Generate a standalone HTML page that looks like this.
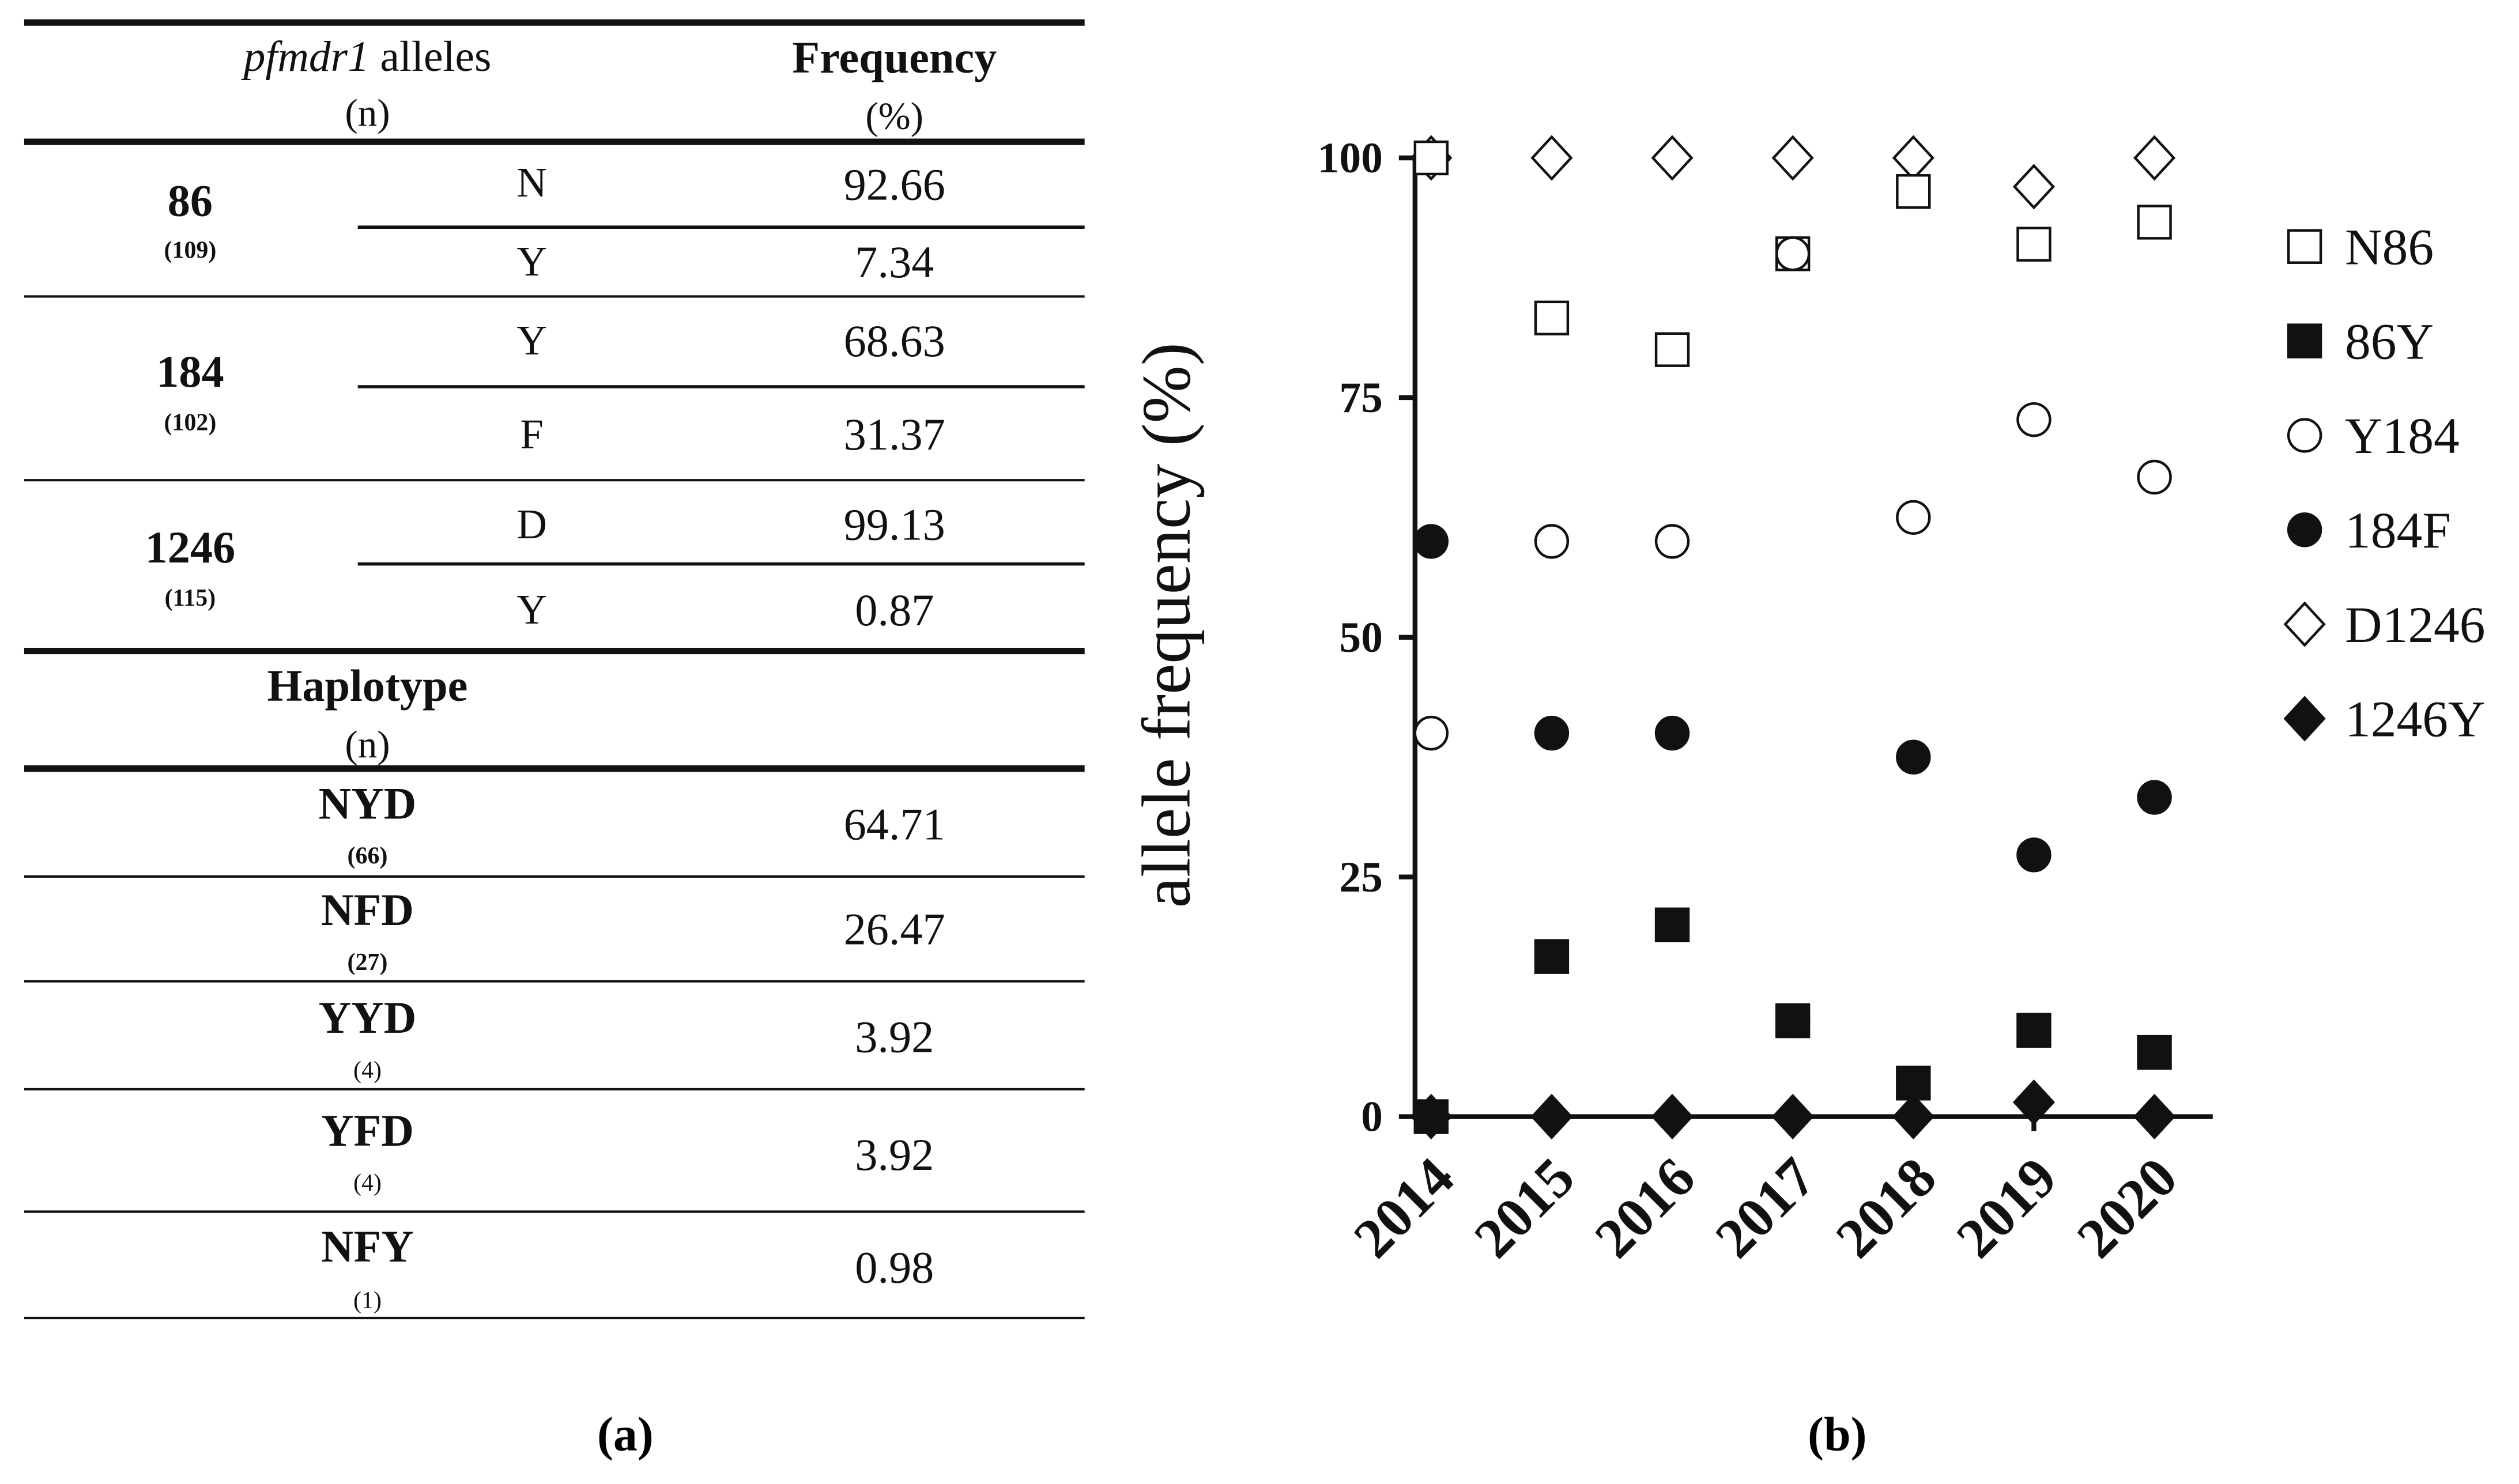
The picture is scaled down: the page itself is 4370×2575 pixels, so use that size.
<!DOCTYPE html>
<html><head><meta charset="utf-8"><style>
html,body{margin:0;padding:0;background:#fff;}
svg{display:block;font-family:"Liberation Serif",serif;}
</style></head><body>
<svg id="fig" width="4370" height="2575" viewBox="0 0 1563 921" xmlns="http://www.w3.org/2000/svg">
<g id="table" fill="#111" font-size="28" text-anchor="middle">
  <line x1="15" x2="673" y1="14" y2="14" stroke="#111" stroke-width="4"/>
  <text x="228" y="44" font-size="27"><tspan font-style="italic">pfmdr1</tspan> alleles</text>
  <text x="228" y="78" font-size="24">(n)</text>
  <text x="555" y="45" font-weight="bold">Frequency</text>
  <text x="555" y="80" font-size="24">(%)</text>
  <line x1="15" x2="673" y1="88" y2="88" stroke="#111" stroke-width="4"/>

  <text x="118" y="134" font-weight="bold">86</text><text x="118" y="160" font-size="15" font-weight="bold">(109)</text>
  <text x="330" y="122" font-size="26">N</text><text x="555" y="124">92.66</text>
  <line x1="222" x2="673" y1="141" y2="141" stroke="#111" stroke-width="2"/>
  <text x="330" y="171" font-size="26">Y</text><text x="555" y="172">7.34</text>
  <line x1="15" x2="673" y1="184" y2="184" stroke="#111" stroke-width="1.5"/>

  <text x="118" y="240" font-weight="bold">184</text><text x="118" y="267" font-size="15" font-weight="bold">(102)</text>
  <text x="330" y="220" font-size="26">Y</text><text x="555" y="221">68.63</text>
  <line x1="222" x2="673" y1="240" y2="240" stroke="#111" stroke-width="2"/>
  <text x="330" y="278" font-size="26">F</text><text x="555" y="279">31.37</text>
  <line x1="15" x2="673" y1="298" y2="298" stroke="#111" stroke-width="1.5"/>

  <text x="118" y="349" font-weight="bold">1246</text><text x="118" y="376" font-size="15" font-weight="bold">(115)</text>
  <text x="330" y="334" font-size="26">D</text><text x="555" y="335">99.13</text>
  <line x1="222" x2="673" y1="350" y2="350" stroke="#111" stroke-width="2"/>
  <text x="330" y="387" font-size="26">Y</text><text x="555" y="388">0.87</text>
  <line x1="15" x2="673" y1="404" y2="404" stroke="#111" stroke-width="4"/>

  <text x="228" y="435" font-weight="bold">Haplotype</text><text x="228" y="470" font-size="24">(n)</text>
  <line x1="15" x2="673" y1="477" y2="477" stroke="#111" stroke-width="4"/>

  <text x="228" y="508" font-weight="bold">NYD</text><text x="228" y="536" font-size="15" font-weight="bold">(66)</text><text x="555" y="521">64.71</text>
  <line x1="15" x2="673" y1="544" y2="544" stroke="#111" stroke-width="1.5"/>
  <text x="228" y="574" font-weight="bold">NFD</text><text x="228" y="602" font-size="15" font-weight="bold">(27)</text><text x="555" y="586">26.47</text>
  <line x1="15" x2="673" y1="609" y2="609" stroke="#111" stroke-width="1.5"/>
  <text x="228" y="641" font-weight="bold">YYD</text><text x="228" y="669" font-size="15">(4)</text><text x="555" y="653">3.92</text>
  <line x1="15" x2="673" y1="676" y2="676" stroke="#111" stroke-width="1.5"/>
  <text x="228" y="711" font-weight="bold">YFD</text><text x="228" y="739" font-size="15">(4)</text><text x="555" y="726">3.92</text>
  <line x1="15" x2="673" y1="752" y2="752" stroke="#111" stroke-width="1.5"/>
  <text x="228" y="783" font-weight="bold">NFY</text><text x="228" y="812" font-size="15">(1)</text><text x="555" y="796">0.98</text>
  <line x1="15" x2="673" y1="818" y2="818" stroke="#111" stroke-width="1.5"/>
</g>
<text x="388" y="900" font-size="30" font-weight="bold" text-anchor="middle">(a)</text>
<text x="1140" y="900" font-size="30" font-weight="bold" text-anchor="middle">(b)</text>
<g id="chart"></g>
</svg>
<script>
const years = ['2014','2015','2016','2017','2018','2019','2020'];
const yTicks = [0,25,50,75,100];
const seriesNames = ['N86','86Y','Y184','184F','D1246','1246Y'];
const n86 = [100,83.3,80,90,96.5,91,93.3];
const y86 = [0,16.7,20,10,3.5,9,6.7];
const y184 = [40,60,60,90,62.5,72.7,66.7];
const f184 = [60,40,40,10,37.5,27.3,33.3];
const d1246 = [100,100,100,100,100,97,100];
const y1246 = [0,0,0,0,0,1.5,0];
const NS='http://www.w3.org/2000/svg';
const g=document.getElementById('chart');
const x0=878,x1=1373,yb=693,yt=98;
const xPos=i=>888+i*74.8;
const yPos=v=>yb-(v/100)*(yb-yt);
function mk(tag,attrs,parent){const e=document.createElementNS(NS,tag);for(const k in attrs)e.setAttribute(k,attrs[k]);(parent||g).appendChild(e);return e;}
function marker(type,cx,cy,parent){
  let e;
  if(type==='sq'||type==='sqf'){e=mk('rect',{x:cx-10,y:cy-10,width:20,height:20,fill:type==='sqf'?'#111':'#fff',stroke:'#111','stroke-width':1.6},parent);}
  else if(type==='ci'||type==='cif'){e=mk('circle',{cx:cx,cy:cy,r:10,fill:type==='cif'?'#111':'#fff',stroke:'#111','stroke-width':1.6},parent);}
  else {e=mk('polygon',{points:`${cx},${cy-13} ${cx+12},${cy} ${cx},${cy+13} ${cx-12},${cy}`,fill:type==='dif'?'#111':'#fff',stroke:'#111','stroke-width':1.6},parent);}
  return e;
}
const ax=mk('line',{x1:x0,x2:x0,y1:yt,y2:yb,stroke:'#111','stroke-width':3});


const bx=mk('line',{x1:x0,x2:x1,y1:yb,y2:yb,stroke:'#111','stroke-width':3});


yTicks.forEach(v=>{
  const t=mk('line',{x1:x0-10,x2:x0,y1:yPos(v),y2:yPos(v),stroke:'#111','stroke-width':3});
  
  
  const l=mk('text',{x:x0-20,y:yPos(v)+9,'text-anchor':'end','font-size':27,'font-weight':'bold',fill:'#111'});
  l.textContent=v;
  
  
});
years.forEach((y,i)=>{
  const t=mk('line',{x1:xPos(i),x2:xPos(i),y1:yb,y2:yb+9,stroke:'#111','stroke-width':3});
  
  
  const ex=xPos(i)+16, ey=yb+40;
  const l=mk('text',{x:ex,y:ey,'text-anchor':'end','font-size':35,'font-weight':'bold',fill:'#111',transform:`rotate(-45 ${ex} ${ey})`});
  l.textContent=y;
  
  
});
const yt2=mk('text',{x:738,y:388,'text-anchor':'middle','font-size':43,fill:'#111',transform:'rotate(-90 738 388)'});
yt2.textContent='allele frequency (%)';


const series=[[n86,'sq'],[y86,'sqf'],[y184,'ci'],[f184,'cif'],[d1246,'di'],[y1246,'dif']];
const drawOrder=[4,0,2,3,1,5];
drawOrder.forEach(si=>{
  const [vals,type]=series[si];
  vals.forEach((v,i)=>{
    const m=marker(type,xPos(i),yPos(v));
    
    
  });
});
seriesNames.forEach((n,i)=>{
  const ly=153+i*58.6;
  const lg=mk('g',{});
  
  
  marker(series[i][1],1430,ly,lg);
  const t=mk('text',{x:1455,y:ly+11,'font-size':32,fill:'#111'},lg);
  t.textContent=n;
});
</script>
</body></html>
